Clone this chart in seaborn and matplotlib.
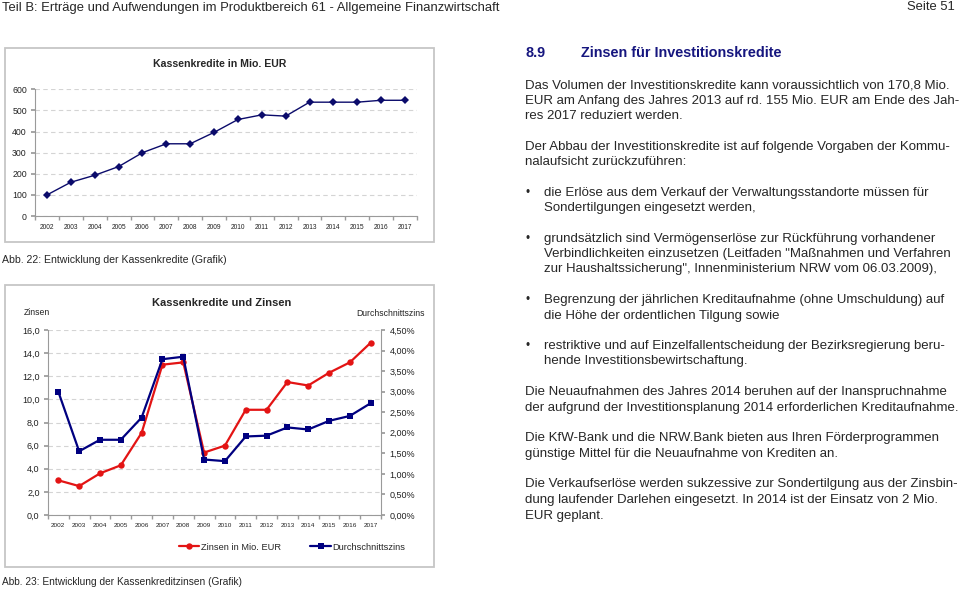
import numpy as np
import pandas as pd
import seaborn as sns
import matplotlib.pyplot as plt
from matplotlib.patches import Rectangle
from matplotlib.ticker import FuncFormatter

# Daten
years = list(range(2002, 2018))
kassenkredite = [100, 160, 193, 234, 300, 342, 342, 396, 457, 479, 473, 539, 539, 539, 548, 548]
zinsen = [3.0, 2.5, 3.6, 4.3, 7.1, 13.0, 13.2, 5.4, 6.0, 9.1, 9.1, 11.5, 11.2, 12.3, 13.2, 14.9]
durchschnittszins = [3.00, 1.55, 1.83, 1.83, 2.37, 3.79, 3.85, 1.35, 1.31, 1.91, 1.93, 2.13, 2.08, 2.29, 2.41, 2.72]

header_left = "Teil B: Erträge und Aufwendungen im Produktbereich 61 - Allgemeine Finanzwirtschaft"
header_right = "Seite 51"
section_no = "8.9"
section_title = "Zinsen für Investitionskredite"
caption_22 = "Abb. 22: Entwicklung der Kassenkredite (Grafik)"
caption_23 = "Abb. 23: Entwicklung der Kassenkreditzinsen (Grafik)"

# (y-Position, eingerückt?, Text)
body_lines = [
    (86, False, "Das Volumen der Investitionskredite kann voraussichtlich von 170,8 Mio."),
    (101, False, "EUR am Anfang des Jahres 2013 auf rd. 155 Mio. EUR am Ende des Jah-"),
    (116, False, "res 2017 reduziert werden."),
    (147, False, "Der Abbau der Investitionskredite ist auf folgende Vorgaben der Kommu-"),
    (162, False, "nalaufsicht zurückzuführen:"),
    (193, True, "die Erlöse aus dem Verkauf der Verwaltungsstandorte müssen für"),
    (208, True, "Sondertilgungen eingesetzt werden,"),
    (239, True, "grundsätzlich sind Vermögenserlöse zur Rückführung vorhandener"),
    (254, True, "Verbindlichkeiten einzusetzen (Leitfaden \"Maßnahmen und Verfahren"),
    (269, True, "zur Haushaltssicherung\", Innenministerium NRW vom 06.03.2009),"),
    (300, True, "Begrenzung der jährlichen Kreditaufnahme (ohne Umschuldung) auf"),
    (316, True, "die Höhe der ordentlichen Tilgung sowie"),
    (346, True, "restriktive und auf Einzelfallentscheidung der Bezirksregierung beru-"),
    (361, True, "hende Investitionsbewirtschaftung."),
    (392, False, "Die Neuaufnahmen des Jahres 2014 beruhen auf der Inanspruchnahme"),
    (408, False, "der aufgrund der Investitionsplanung 2014 erforderlichen Kreditaufnahme."),
    (438, False, "Die KfW-Bank und die NRW.Bank bieten aus Ihren Förderprogrammen"),
    (454, False, "günstige Mittel für die Neuaufnahme von Krediten an."),
    (484, False, "Die Verkaufserlöse werden sukzessive zur Sondertilgung aus der Zinsbin-"),
    (500, False, "dung laufender Darlehen eingesetzt. In 2014 ist der Einsatz von 2 Mio."),
    (516, False, "EUR geplant."),
]
bullet_rows = [193, 239, 300, 346]

sns.set_theme(style="white")
plt.rcParams['font.family'] = ['Liberation Sans', 'DejaVu Sans']

W, H = 960, 590
fig = plt.figure(figsize=(9.6, 5.9), dpi=100)


def fx(x):
    return x / W


def fy(y):
    return 1 - y / H


def frame(x0, y0, x1, y1):
    fig.add_artist(Rectangle((fx(x0), fy(y1)), fx(x1 - x0), (y1 - y0) / H,
                             transform=fig.transFigure, fill=False,
                             edgecolor='#c6c6c6', lw=1.3))


axis_grey = '#9a9a9a'
grid_kw = dict(linestyle=(0, (4, 3)), color='#d4d4d4', lw=0.8)

# ---- Chart 1: Kassenkredite
frame(4.7, 48.3, 434, 242)
ax1 = fig.add_axes([fx(35.1), fy(216), fx(381.8), 126.7 / H])
df1 = pd.DataFrame({'Jahr': years, 'Kassenkredite': kassenkredite})
sns.lineplot(data=df1, x='Jahr', y='Kassenkredite', ax=ax1, color='#0b0b6b',
             marker='D', markersize=3.6, markeredgewidth=0, linewidth=1.0)
ax1.set_xlim(2001.5, 2017.5)
ax1.set_ylim(0, 600)
ax1.set_xticks(years)
ax1.set_xticklabels([str(y) for y in years], fontsize=4.8, color='#222222')
ax1.set_xticks(np.arange(2001.5, 2018, 1), minor=True)
ax1.tick_params(axis='x', which='major', length=0, pad=6)
ax1.tick_params(axis='x', which='minor', length=3, color=axis_grey, direction='out', bottom=True)
ax1.set_yticks(range(0, 700, 100))
ax1.tick_params(axis='y', labelsize=6.3, length=3, color=axis_grey, left=True, labelcolor='#222222', pad=3)
ax1.yaxis.grid(True, **grid_kw)
ax1.xaxis.grid(False)
for s in ['top', 'right']:
    ax1.spines[s].set_visible(False)
for s in ['left', 'bottom']:
    ax1.spines[s].set_color(axis_grey)
    ax1.spines[s].set_linewidth(0.8)
ax1.set_xlabel('')
ax1.set_ylabel('')
fig.text(fx(220), fy(64), "Kassenkredite in Mio. EUR", ha='center', va='center',
         fontsize=7.6, fontweight='bold')
fig.text(fx(2.5), fy(260), caption_22, ha='left', va='center', fontsize=7.6)

# ---- Chart 2: Kassenkredite und Zinsen
frame(4.7, 285, 434, 567)
ax2 = fig.add_axes([fx(47.9), fy(515), fx(333.2), 185 / H])
sns.lineplot(x=years, y=zinsen, ax=ax2, color='#e31414', marker='o',
             markersize=4.6, markeredgewidth=0, linewidth=1.6, legend=False)
ax3 = ax2.twinx()
sns.lineplot(x=years, y=durchschnittszins, ax=ax3, color='#000080', marker='s',
             markersize=4.4, markeredgewidth=0, linewidth=1.6, legend=False)

ax2.set_xlim(2001.5, 2017.5)
ax2.set_ylim(0, 16)
ax3.set_ylim(0, 4.5)
ax2.set_xticks(years)
ax2.set_xticklabels([str(y) for y in years], fontsize=4.6, color='#222222')
ax2.set_xticks(np.arange(2001.5, 2018, 1), minor=True)
ax2.tick_params(axis='x', which='major', length=0, pad=6)
ax2.tick_params(axis='x', which='minor', length=3, color=axis_grey, direction='out', bottom=True)
ax2.set_yticks(np.arange(0, 17, 2))
ax2.yaxis.set_major_formatter(FuncFormatter(lambda v, p: f"{v:.1f}".replace('.', ',')))
ax2.tick_params(axis='y', labelsize=6.5, length=3, color=axis_grey, left=True, labelcolor='#222222', pad=3)
ax3.set_yticks(np.arange(0, 4.51, 0.5))
ax3.yaxis.set_major_formatter(FuncFormatter(lambda v, p: f"{v:.2f}%".replace('.', ',')))
ax3.tick_params(axis='y', labelsize=6.5, length=3, color=axis_grey, right=True, labelcolor='#222222', pad=3)
ax2.yaxis.grid(True, **grid_kw)
ax2.xaxis.grid(False)
ax3.grid(False)
for s in ['top', 'right']:
    ax2.spines[s].set_visible(False)
for s in ['left', 'bottom']:
    ax2.spines[s].set_color(axis_grey)
    ax2.spines[s].set_linewidth(0.8)
for s in ['top', 'left', 'bottom']:
    ax3.spines[s].set_visible(False)
ax3.spines['right'].set_color(axis_grey)
ax3.spines['right'].set_linewidth(0.8)
for a in (ax2, ax3):
    a.set_xlabel('')
    a.set_ylabel('')

fig.text(fx(222), fy(303), "Kassenkredite und Zinsen", ha='center', va='center',
         fontsize=8.0, fontweight='bold')
fig.text(fx(24), fy(312.5), "Zinsen", ha='left', va='center', fontsize=6.2, color='#222222')
fig.text(fx(356), fy(313), "Durchschnittszins", ha='left', va='center', fontsize=6.2, color='#222222')

handles = [ax2.get_lines()[0], ax3.get_lines()[0]]
fig.legend(handles, ["Zinsen in Mio. EUR", "Durchschnittszins"], loc='center',
           bbox_to_anchor=(fx(292), fy(547)), ncol=2, frameon=False, fontsize=6.7,
           handlelength=2.2, handletextpad=0.15, columnspacing=3.2)
fig.text(fx(2.5), fy(582), caption_23, ha='left', va='center', fontsize=7.25)

# ---- Kopfzeile und Text
fig.text(fx(2), fy(7.5), header_left, ha='left', va='center', fontsize=9.35)
fig.text(fx(955), fy(7.5), header_right, ha='right', va='center', fontsize=9.35)
fig.text(fx(525), fy(53.3), section_no, ha='left', va='center', fontsize=10.4,
         fontweight='bold', color='#16167f')
fig.text(fx(581), fy(53.3), section_title, ha='left', va='center', fontsize=10.4,
         fontweight='bold', color='#16167f')

for y, indent, line in body_lines:
    fig.text(fx(543.5 if indent else 525), fy(y), line, ha='left', va='center', fontsize=9.5)
for y in bullet_rows:
    fig.text(fx(528), fy(y), "•", ha='center', va='center', fontsize=8.5)

fig.savefig('out.png', dpi=100)
